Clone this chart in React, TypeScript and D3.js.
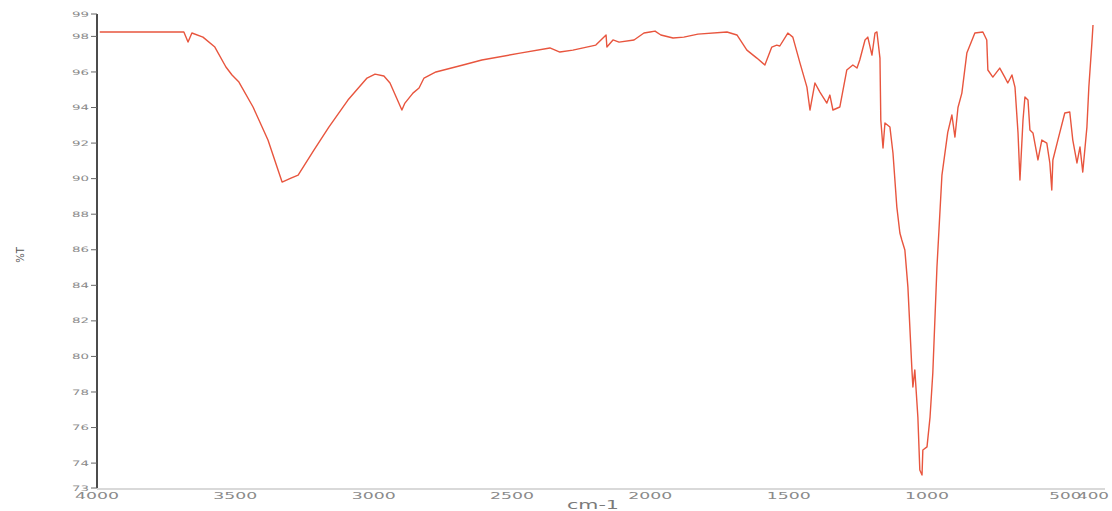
import React from "react";
import * as d3 from "d3";

const wavenumbers = [
  3990, 3686, 3671, 3657, 3617, 3574, 3534, 3512, 3487, 3436, 3382, 3342, 3331, 3299, 3273, 3216,
  3162, 3093, 3024, 2995, 2963, 2941, 2898, 2887, 2858, 2836, 2818, 2775, 2677, 2609, 2471, 2363,
  2327, 2280, 2197, 2160, 2157, 2135, 2113, 2059, 2023, 2001, 1983, 1962, 1918, 1879, 1828, 1723,
  1687, 1651, 1615, 1586, 1561, 1543, 1532, 1503, 1485, 1459, 1434, 1423, 1405, 1387, 1362, 1351,
  1340, 1315, 1290, 1268, 1253, 1243, 1224, 1214, 1199, 1188, 1181, 1170, 1167, 1159, 1152, 1134,
  1123, 1109, 1098, 1091, 1080, 1069, 1055, 1051, 1044, 1033, 1026, 1018, 1015, 1000, 989, 979,
  964, 946, 925, 910, 899, 888, 874, 856, 827, 798, 784, 780, 762, 737, 719, 708,
  693, 682, 671, 664, 653, 646, 635, 628, 617, 599, 585, 567, 556, 549, 545, 527,
  502, 484, 473, 458, 447, 437, 422, 415, 404, 400,
];

const transmittance = [
  98.25, 98.25, 97.68, 98.19, 97.96, 97.4, 96.28, 95.83, 95.43, 94.03, 92.17, 90.32, 89.81, 90.03, 90.2, 91.61,
  92.9, 94.42, 95.66, 95.88, 95.77, 95.38, 93.86, 94.25, 94.81, 95.1, 95.66, 96.0, 96.39, 96.67, 97.06, 97.35,
  97.12, 97.23, 97.51, 98.08, 97.4, 97.8, 97.68, 97.8, 98.19, 98.25, 98.3, 98.08, 97.91, 97.96, 98.13, 98.25,
  98.08, 97.23, 96.78, 96.39, 97.4, 97.51, 97.46, 98.19, 97.96, 96.5, 95.15, 93.86, 95.38, 94.87, 94.25, 94.7,
  93.86, 94.03, 96.11, 96.39, 96.22, 96.67, 97.8, 97.96, 96.95, 98.19, 98.25, 96.78, 93.3, 91.72, 93.13, 92.9,
  91.44, 88.4, 86.94, 86.55, 85.99, 83.9, 79.4, 78.28, 79.24, 76.59, 73.61, 73.33, 74.74, 74.91, 76.59, 79.07,
  85.03, 90.2, 92.6, 93.58, 92.34, 94.0, 94.81, 97.06, 98.19, 98.25, 97.8, 96.11, 95.71, 96.22, 95.71, 95.38,
  95.83, 95.15, 92.57, 89.92, 93.3, 94.59, 94.42, 92.73, 92.57, 91.05, 92.17, 92.0, 90.88, 89.36, 91.05, 92.17,
  93.69, 93.75, 92.17, 90.88, 91.78, 90.37, 92.9, 95.15, 97.63, 98.64,
];

const xTicks = [4000, 3500, 3000, 2500, 2000, 1500, 1000, 500, 400];
const yTicks = [98, 96, 94, 92, 90, 88, 86, 84, 82, 80, 78, 76, 74];
const yMin = 72.6;
const yMax = 99.26;
const yEndLabels = ["73", "99"];
const xTitle = "cm-1";
const yTitle = "%T";

export default function App() {
  const W = 1112;
  const H = 511;
  const x = d3.scaleLinear().domain([4000, 400]).range([97, 1093]);
  const y = d3.scaleLinear().domain([yMin, yMax]).range([488, 14]);
  const pts = wavenumbers.map((w, i) => [w, transmittance[i]] as [number, number]);
  const line = d3
    .line<[number, number]>()
    .x((d) => x(d[0]))
    .y((d) => y(d[1]));

  const yLabelTicks = [
    { v: yMax, t: yEndLabels[1] },
    ...yTicks.map((v) => ({ v, t: String(v) })),
    { v: yMin, t: yEndLabels[0] },
  ];

  return (
    <svg
      width={W}
      height={H}
      style={{ position: "absolute", left: 0, top: 0, background: "#fff" }}
      fontFamily="DejaVu Sans, sans-serif"
    >
      <line x1={97} x2={1105} y1={489} y2={489} stroke="#b4b4b4" strokeWidth={1.2} />
      <line x1={97} x2={97} y1={y(yMax)} y2={y(yMin)} stroke="#111" strokeWidth={1.5} />
      {yLabelTicks.map((d, i) => (
        <g key={i} transform={`translate(0,${y(d.v)})`}>
          <line x1={91} x2={97} stroke="#666" strokeWidth={1} />
          <text
            x={89}
            dy="0.35em"
            textAnchor="end"
            fontSize={7.5}
            fill="#8a8a8a"
            textLength={17}
            lengthAdjust="spacingAndGlyphs"
          >
            {d.t}
          </text>
        </g>
      ))}
      {xTicks.map((v) => (
        <text
          key={v}
          x={x(v)}
          y={499}
          textAnchor="middle"
          fontSize={9}
          fill="#8a8a8a"
          textLength={v === 500 || v === 400 ? 32 : 44}
          lengthAdjust="spacingAndGlyphs"
        >
          {v}
        </text>
      ))}
      <text
        x={593}
        y={509}
        textAnchor="middle"
        fontSize={13}
        fill="#7a7a7a"
        textLength={52}
        lengthAdjust="spacingAndGlyphs"
      >
        {xTitle}
      </text>
      <text
        transform="translate(24,255) rotate(-90)"
        textAnchor="middle"
        fontSize={10}
        fill="#555"
      >
        {yTitle}
      </text>
      <path d={line(pts) || ""} fill="none" stroke="#e8553e" strokeWidth={1.4} strokeLinejoin="round" />
    </svg>
  );
}
